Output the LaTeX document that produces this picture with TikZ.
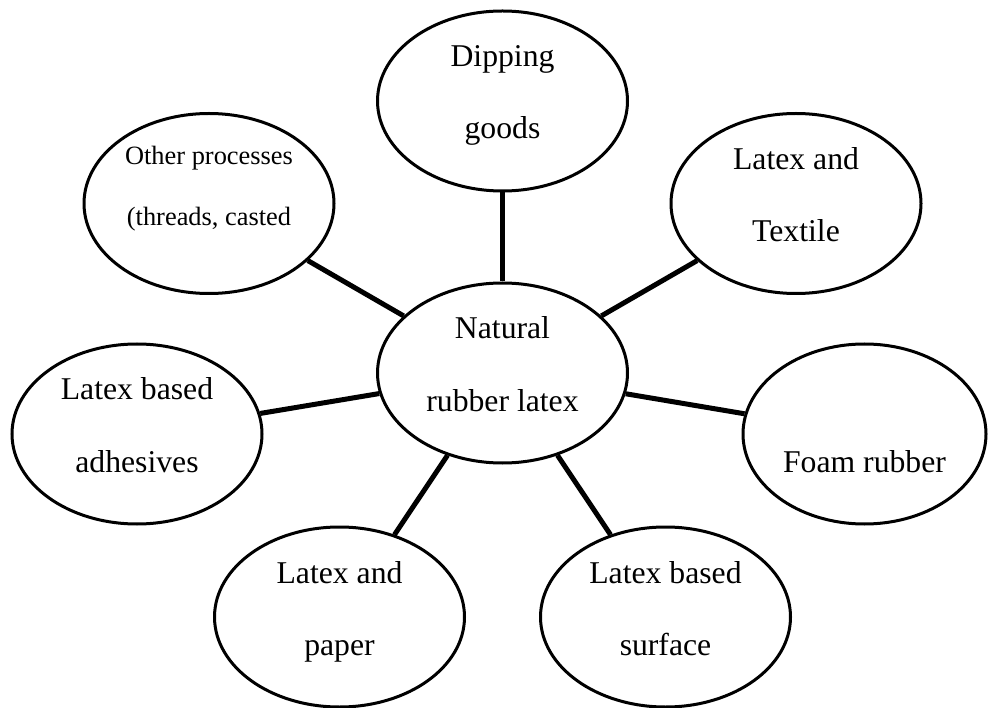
\documentclass[tikz,border=0pt]{standalone}
\usepackage{fontspec}
\setmainfont{Liberation Serif}
\usetikzlibrary{shapes.geometric}
\begin{document}
\begin{tikzpicture}[x=1pt,y=-1pt,
  bub/.style={ellipse, draw, line width=3pt, minimum width=250pt, minimum height=180pt, inner sep=0pt},
  link/.style={line width=5pt},
  lbl/.style={anchor=base, inner sep=0pt, font=\fontsize{31.7}{38}\selectfont},
  lbls/.style={anchor=base, inner sep=0pt, font=\fontsize{26.4}{32}\selectfont}]
\useasboundingbox (0,0) rectangle (988,708);
% bubbles
\node[bub] (nat) at (502.5,373) {};
\node[bub] (dip) at (502.5,101) {};
\node[bub] (oth) at (209,203.5) {};
\node[bub] (tex) at (796,203.5) {};
\node[bub] (adh) at (137,434) {};
\node[bub, minimum width=243pt] (foam) at (864.5,434) {};
\node[bub] (pap) at (339.5,617) {};
\node[bub] (sur) at (665.5,617) {};
% connectors
\draw[link] (dip) -- (nat);
\draw[link] (oth) -- (nat);
\draw[link] (tex) -- (nat);
\draw[link] (adh) -- (nat);
\draw[link] (foam) -- (nat);
\draw[link] (pap) -- (nat);
\draw[link] (sur) -- (nat);
% labels
\node[lbl] (natA) at ([yshift=34pt]nat.center) {Natural};
\node[lbl] (natB) at ([yshift=-38pt]nat.center) {rubber latex};
\node[lbl] (dipA) at ([yshift=34pt]dip.center) {Dipping};
\node[lbl] (dipB) at ([yshift=-38pt]dip.center) {goods};
\node[lbls] (othA) at ([yshift=38.5pt]oth.center) {Other processes};
\node[lbls] (othB) at ([yshift=-22.5pt]oth.center) {(threads, casted};
\node[lbl] (texA) at ([yshift=34pt]tex.center) {Latex and};
\node[lbl] (texB) at ([yshift=-38pt]tex.center) {Textile};
\node[lbl] (adhA) at ([yshift=34pt]adh.center) {Latex based};
\node[lbl] (adhB) at ([yshift=-38pt]adh.center) {adhesives};
\node[lbl] (foamB) at ([yshift=-38pt]foam.center) {Foam rubber};
\node[lbl] (papA) at ([yshift=34pt]pap.center) {Latex and};
\node[lbl] (papB) at ([yshift=-38pt]pap.center) {paper};
\node[lbl] (surA) at ([yshift=34pt]sur.center) {Latex based};
\node[lbl] (surB) at ([yshift=-38pt]sur.center) {surface};
\end{tikzpicture}
\end{document}
